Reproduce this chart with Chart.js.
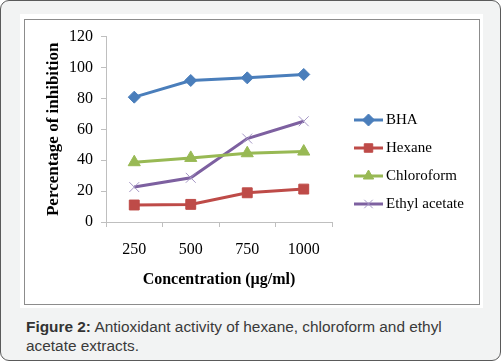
<!DOCTYPE html>
<html>
<head>
<meta charset="utf-8">
<script src="https://cdn.jsdelivr.net/npm/chart.js@4.4.1/dist/chart.umd.min.js"></script>
<style>
    html, body { margin: 0; padding: 0; background: #fff; }
    .card {
        position: absolute; left: 0; top: 0; width: 499px; height: 359px;
        background: #f2f3f3; border: 1.5px solid #5a5a5a; border-radius: 9px;
        overflow: hidden;
    }
    .panel {
        position: absolute; left: 19px; top: 13px; width: 463px; height: 294px;
        background: #fff;
    }
    .frame {
        position: absolute; left: 23px; top: 18px; width: 456px; height: 286px;
        border: 1px solid #8c8c8c; box-sizing: border-box;
    }
    canvas { position: absolute; left: 23px; top: 18px; }
    .caption {
        position: absolute; left: 25px; top: 316px; width: 445px;
        font-family: "Liberation Sans", Arial, sans-serif; font-size: 15.4px;
        line-height: 19px; color: #3a3a3a;
    }
    .caption b { color: #333; }
</style>
</head>
<body>
<div class="card">
    <div class="panel"></div>
    <div class="frame"></div>
    <canvas id="chart" width="457" height="286"></canvas>
    <div class="caption"><b>Figure 2:</b> Antioxidant activity of hexane, chloroform and ethyl acetate extracts.</div>
</div>
<script>
const concentrations = ['250', '500', '750', '1000'];
const bha = [80.8, 91.6, 93.3, 95.5];
const hexane = [11.0, 11.4, 18.9, 21.3];
const chloroform = [38.7, 41.5, 44.5, 45.6];
const ethylAcetate = [22.6, 28.6, 54.0, 65.2];
const yTicks = [0, 20, 40, 60, 80, 100, 120];

const serif = '"Liberation Serif", "DejaVu Serif", serif';

// legend drawn by hand: line + marker + label, like the Excel one
const sideLegend = {
    id: 'sideLegend',
    afterDraw(chart) {
        const ctx = chart.ctx;
        const x0 = 330, x1 = 359;
        chart.data.datasets.forEach((ds, i) => {
            const y = 101 + i * 28;
            ctx.save();
            ctx.strokeStyle = ds.borderColor;
            ctx.lineWidth = 3;
            ctx.beginPath();
            ctx.moveTo(x0, y);
            ctx.lineTo(x1, y);
            ctx.stroke();
            ctx.fillStyle = ds.pointBackgroundColor;
            ctx.strokeStyle = ds.pointBorderColor;
            ctx.lineWidth = 1;
            Chart.helpers.drawPoint(ctx, {
                pointStyle: ds.pointStyle,
                radius: ds.legendRadius,
                borderWidth: 1
            }, (x0 + x1) / 2, y);
            ctx.fillStyle = '#000';
            ctx.font = '15px ' + serif;
            ctx.textBaseline = 'middle';
            ctx.fillText(ds.label, x1 + 3, y);
            ctx.restore();
        });
    }
};

const mk = (label, data, color, marker, style, radius, legendRadius) => ({
    label: label,
    data: data,
    borderColor: color,
    backgroundColor: marker,
    pointBackgroundColor: marker,
    pointBorderColor: marker,
    pointStyle: style,
    pointRadius: radius,
    legendRadius: legendRadius,
    borderWidth: 3,
    pointBorderWidth: 1,
    tension: 0,
    fill: false
});

new Chart(document.getElementById('chart'), {
    type: 'line',
    data: {
        labels: concentrations,
        datasets: [
            mk('BHA', bha, '#4a7ebb', '#4a7ebb', 'rectRot', 6, 6),
            mk('Hexane', hexane, '#be4b48', '#be4b48', 'rect', 7, 6),
            mk('Chloroform', chloroform, '#98b954', '#98b954', 'triangle', 7, 6),
            mk('Ethyl acetate', ethylAcetate, '#7d60a0', '#a496c4', 'crossRot', 7, 6)
        ]
    },
    options: {
        responsive: false,
        animation: false,
        layout: { padding: { top: 17, right: 149, left: 0, bottom: 0 } },
        plugins: {
            legend: { display: false },
            tooltip: { enabled: false }
        },
        scales: {
            x: {
                type: 'category',
                offset: true,
                afterFit: scale => { scale.height = 83; },
                grid: {
                    offset: true,
                    drawOnChartArea: false,
                    tickLength: 5,
                    color: '#bfbfbf'
                },
                border: { color: '#bfbfbf', width: 1 },
                ticks: {
                    color: '#000',
                    padding: 13,
                    font: { family: serif, size: 16 }
                },
                title: {
                    display: true,
                    text: 'Concentration (µg/ml)',
                    color: '#000',
                    padding: { top: 4, bottom: 16 },
                    font: { family: serif, size: 16, weight: 'bold' }
                }
            },
            y: {
                min: 0,
                max: 120,
                afterFit: scale => { scale.width = 82; },
                afterBuildTicks: scale => { scale.ticks = yTicks.map(v => ({ value: v })); },
                grid: {
                    drawOnChartArea: false,
                    tickLength: 5,
                    color: '#bfbfbf'
                },
                border: { color: '#bfbfbf', width: 1 },
                ticks: {
                    color: '#000',
                    padding: 8,
                    font: { family: serif, size: 16 }
                },
                title: {
                    display: true,
                    text: 'Percentage of inhibition',
                    color: '#000',
                    padding: { top: 19, bottom: 0 },
                    font: { family: serif, size: 17, weight: 'bold' }
                }
            }
        }
    },
    plugins: [sideLegend]
});
</script>
</body>
</html>
